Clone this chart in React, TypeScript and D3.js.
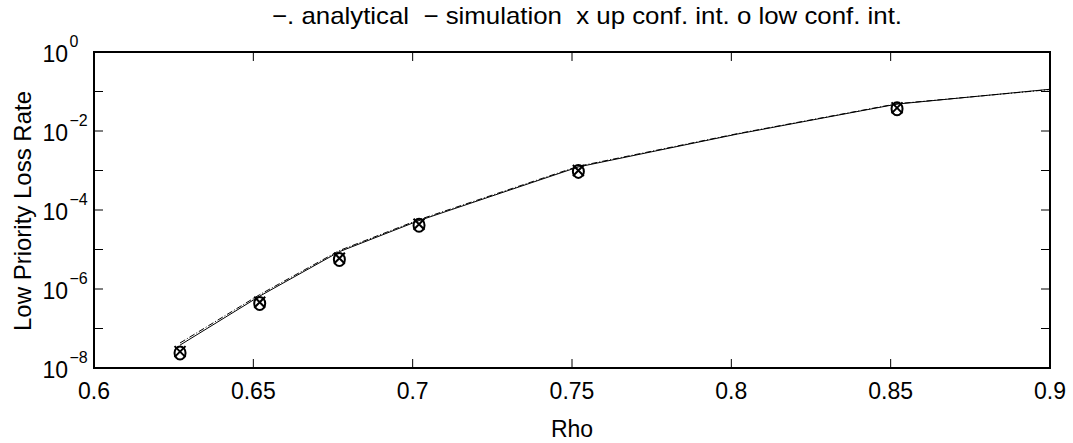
import React from "react";
import * as d3 from "d3";

const rhoLine = [0.627, 0.652, 0.677, 0.702, 0.752, 0.802, 0.852, 0.9];
const simulation = [3.8e-8, 6.6e-7, 8.8e-6, 5.4e-5, 1.23e-3, 8.4e-3, 4.8e-2, 0.114];
const analytical = [4.3e-8, 7.2e-7, 9.4e-6, 5.7e-5, 1.28e-3, 8.6e-3, 4.9e-2, 0.112];
const rhoConf = [0.627, 0.652, 0.677, 0.702, 0.752, 0.852];
const upConf = [2.6e-8, 4.6e-7, 6.0e-6, 4.35e-5, 1.0e-3, 3.85e-2];
const lowConf = [2.4e-8, 4.3e-7, 5.6e-6, 4.1e-5, 0.95e-3, 3.65e-2];
const xTicks = [0.6, 0.65, 0.7, 0.75, 0.8, 0.85, 0.9];
const xTickLabels = ["0.6", "0.65", "0.7", "0.75", "0.8", "0.85", "0.9"];
const yTickExps = [-8, -7, -6, -5, -4, -3, -2, -1, 0];
const yLabelExps = [-8, -6, -4, -2, 0];
const titleText = "\u2212. analytical  \u2212 simulation  x up conf. int. o low conf. int.";

export default function App() {
  const W = 1073, H = 443;
  const L = 94, R = 1050, T = 52, B = 368;
  const x = d3.scaleLinear().domain([0.6, 0.9]).range([L, R]);
  const y = d3.scaleLog().domain([1e-8, 1]).range([B, T]);
  const font = "Liberation Sans, Arial, Helvetica, sans-serif";
  const lineGen = (vals: number[]) =>
    d3.line<number>().x((_, i) => x(rhoLine[i])).y((v) => y(v))(vals) || "";
  const tl = 9;
  return (
    <svg width={W} height={H} style={{ position: "absolute", left: 0, top: 0, background: "#fff" }} fontFamily={font}>
      <rect x={0} y={0} width={W} height={H} fill="#fff" />
      <path d={lineGen(analytical)} fill="none" stroke="#000" strokeWidth={1} strokeDasharray="6,2,1,2" />
      <path d={lineGen(simulation)} fill="none" stroke="#000" strokeWidth={1} />
      {rhoConf.map((r, i) => {
        const cx = x(r), cy = y(upConf[i]);
        const s = 5.5;
        return (
          <path key={"u" + i} d={`M${cx - s},${cy - s}L${cx + s},${cy + s}M${cx - s},${cy + s}L${cx + s},${cy - s}`} stroke="#000" strokeWidth={2} fill="none" />
        );
      })}
      {rhoConf.map((r, i) => (
        <ellipse key={"l" + i} cx={x(r)} cy={y(lowConf[i])} rx={5.5} ry={6.5} stroke="#000" strokeWidth={2} fill="none" />
      ))}
      <rect x={L} y={T} width={R - L} height={B - T} fill="none" stroke="#000" strokeWidth={2} />
      {xTicks.map((t, i) => (
        <g key={"xt" + i}>
          <line x1={x(t)} x2={x(t)} y1={B} y2={B - tl} stroke="#000" strokeWidth={1} />
          <line x1={x(t)} x2={x(t)} y1={T} y2={T + tl} stroke="#000" strokeWidth={1} />
          <text x={x(t)} y={399} fontSize={23} textAnchor="middle" fill="#000">{xTickLabels[i]}</text>
        </g>
      ))}
      {yTickExps.map((e) => (
        <g key={"yt" + e}>
          <line x1={L} x2={L + tl} y1={y(Math.pow(10, e))} y2={y(Math.pow(10, e))} stroke="#000" strokeWidth={1} />
          <line x1={R} x2={R - tl} y1={y(Math.pow(10, e))} y2={y(Math.pow(10, e))} stroke="#000" strokeWidth={1} />
        </g>
      ))}
      {yLabelExps.map((e) => {
        const yy = y(Math.pow(10, e));
        return (
          <text key={"yl" + e} x={68} y={yy + 10} fontSize={23} textAnchor="end" fill="#000">
            10
          </text>
        );
      })}
      {yLabelExps.map((e) => {
        const yy = y(Math.pow(10, e));
        return (
          <text key={"ye" + e} x={69.5} y={yy - 5.5} fontSize={16} textAnchor="start" fill="#000">
            {e < 0 ? "\u2212" + String(-e) : String(e)}
          </text>
        );
      })}
      <text x={(L + R) / 2} y={437} fontSize={23} textAnchor="middle" fill="#000">Rho</text>
      <text transform={`translate(31,211) rotate(-90)`} fontSize={24} textAnchor="middle" fill="#000">Low Priority Loss Rate</text>
      <text x={587} y={24} fontSize={24} textAnchor="middle" fill="#000" textLength={630} lengthAdjust="spacingAndGlyphs" style={{ whiteSpace: "pre" }}>{titleText}</text>
    </svg>
  );
}
